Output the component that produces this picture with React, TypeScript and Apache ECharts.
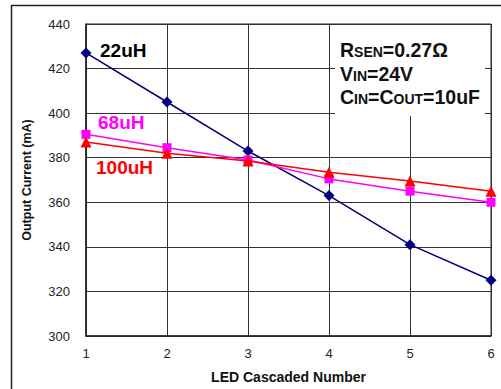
import React, { useEffect, useRef } from "react";
import * as echarts from "echarts";

const ledCounts = [1, 2, 3, 4, 5, 6];
const current22uH = [427, 405, 383, 363, 341, 325];
const current68uH = [390.5, 384.5, 379, 370.5, 365, 360];
const current100uH = [387, 382, 378.5, 373.5, 369.5, 365];
const yTicks = { min: 300, max: 440, interval: 20 };

const FONT = "'Liberation Sans', Arial, sans-serif";

export default function App() {
  const ref = useRef<HTMLDivElement>(null);
  useEffect(() => {
    if (!ref.current) return;
    const chart = echarts.init(ref.current, undefined, { renderer: "svg" });
    const pair = (vals: number[]) => ledCounts.map((x, i) => [x, vals[i]]);
    chart.setOption({
      animation: false,
      backgroundColor: "#fff",
      textStyle: { fontFamily: FONT },
      grid: { left: 86, right: 10, top: 24, bottom: 53, show: true, borderColor: "#222", borderWidth: 1 },
      xAxis: {
        type: "value",
        min: 1,
        max: 6,
        interval: 1,
        name: "LED Cascaded Number",
        nameLocation: "middle",
        nameGap: 34,
        nameTextStyle: { fontFamily: FONT, fontWeight: "bold", fontSize: 14, color: "#111" },
        axisLine: { lineStyle: { color: "#222", width: 1.5 } },
        axisTick: { show: false },
        axisLabel: { fontFamily: FONT, fontSize: 13, color: "#222", margin: 11 },
        splitLine: { show: true, lineStyle: { color: "#333", width: 1 } },
      },
      yAxis: {
        type: "value",
        min: yTicks.min,
        max: yTicks.max,
        interval: yTicks.interval,
        name: "Output Current (mA)",
        nameLocation: "middle",
        nameGap: 53,
        nameTextStyle: { fontFamily: FONT, fontWeight: "bold", fontSize: 12.5, color: "#111" },
        axisLine: { show: true, lineStyle: { color: "#222", width: 1.5 } },
        axisTick: { show: false },
        axisLabel: { fontFamily: FONT, fontSize: 13, color: "#222", margin: 16 },
        splitLine: { show: true, lineStyle: { color: "#333", width: 1 } },
      },
      series: [
        {
          name: "22uH",
          type: "line",
          data: pair(current22uH),
          symbol: "diamond",
          symbolSize: 11,
          lineStyle: { color: "#000080", width: 1.5 },
          itemStyle: { color: "#000080" },
          z: 3,
        },
        {
          name: "68uH",
          type: "line",
          data: pair(current68uH),
          symbol: "rect",
          symbolSize: 9,
          lineStyle: { color: "#ff00ff", width: 1.5 },
          itemStyle: { color: "#ff00ff" },
          z: 4,
        },
        {
          name: "100uH",
          type: "line",
          data: pair(current100uH),
          symbol: "triangle",
          symbolSize: 11,
          lineStyle: { color: "#ff0000", width: 1.5 },
          itemStyle: { color: "#ff0000" },
          z: 5,
        },
      ],
      graphic: [
        {
          type: "rect",
          shape: { x: 11.5, y: 5.5, width: 520, height: 420 },
          style: { fill: "none", stroke: "#222", lineWidth: 1.5 },
          silent: true,
        },
        {
          type: "rect",
          shape: { x: 335, y: 25, width: 150, height: 91 },
          style: { fill: "#fff", stroke: "none" },
          z: 10,
        },
        {
          type: "text",
          x: 100,
          y: 50,
          style: { text: "22uH", fontFamily: FONT, fontWeight: "bold", fontSize: 19, fill: "#000", verticalAlign: "middle" },
          z: 11,
        },
        {
          type: "text",
          x: 98,
          y: 122,
          style: { text: "68uH", fontFamily: FONT, fontWeight: "bold", fontSize: 19, fill: "#ff00ff", verticalAlign: "middle" },
          z: 11,
        },
        {
          type: "text",
          x: 96,
          y: 167,
          style: { text: "100uH", fontFamily: FONT, fontWeight: "bold", fontSize: 19, fill: "#ff0000", verticalAlign: "middle" },
          z: 11,
        },
        ...[
          { y: 49, text: "{b|R}{s|SEN}{b|=0.27Ω}" },
          { y: 73, text: "{b|V}{s|IN}{b|=24V}" },
          { y: 96, text: "{b|C}{s|IN}{b|=C}{s|OUT}{b|=10uF}" },
        ].map((l) => ({
          type: "text",
          x: 340,
          y: l.y,
          z: 11,
          style: {
            text: l.text,
            verticalAlign: "middle",
            fill: "#111",
            rich: {
              b: { fontFamily: FONT, fontWeight: "bold", fontSize: 19.5, fill: "#111", lineHeight: 22, verticalAlign: "bottom" },
              s: { fontFamily: FONT, fontWeight: "bold", fontSize: 14, fill: "#111", lineHeight: 22, verticalAlign: "bottom", padding: [0, 0, 1, 0] },
            },
          },
        })),
      ],
    });
    return () => chart.dispose();
  }, []);
  return <div ref={ref} style={{ width: 501, height: 389, position: "absolute", left: 0, top: 0 }} />;
}
